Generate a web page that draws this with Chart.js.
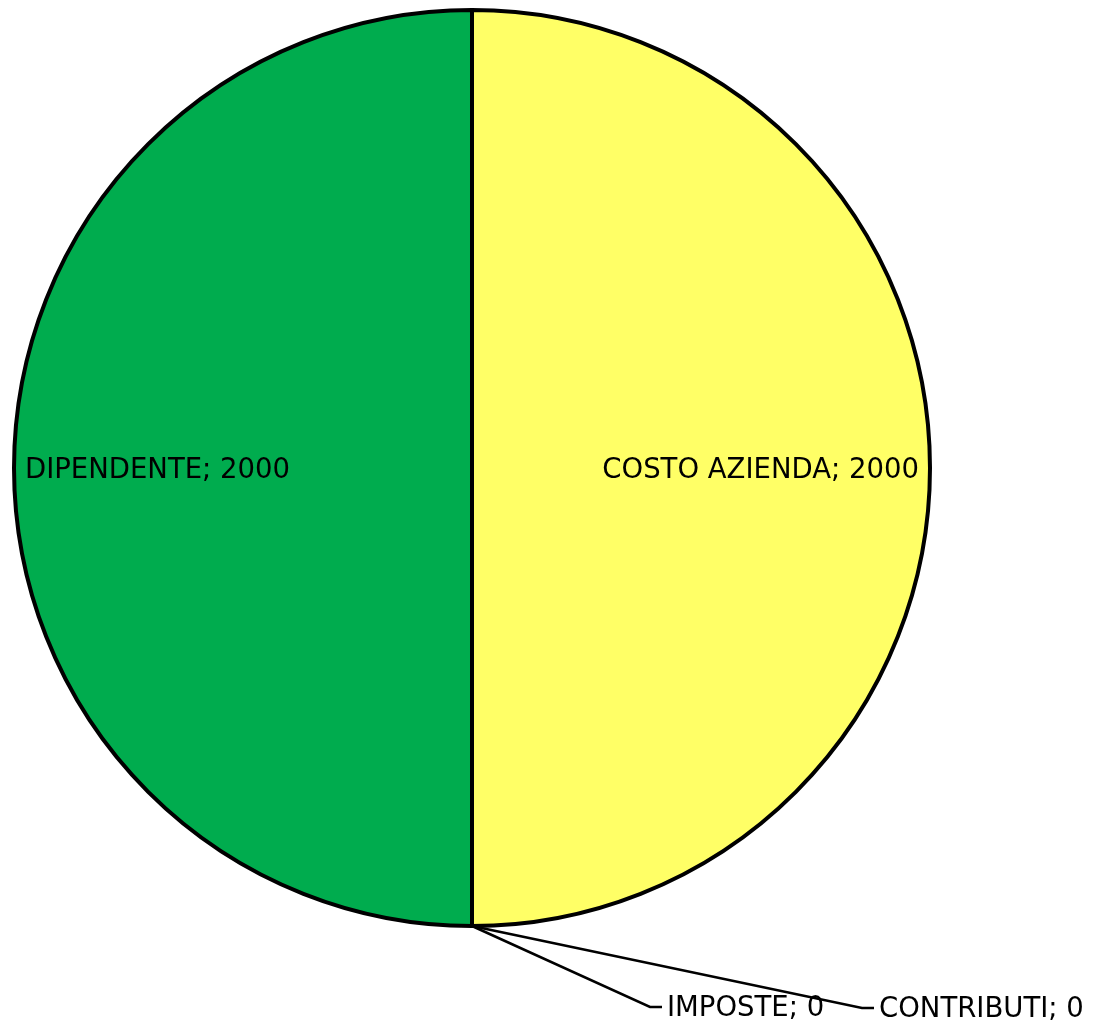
<!DOCTYPE html>
<html lang="it">
<head>
    <meta charset="UTF-8">
    <title>Costo azienda</title>
    <script src="https://cdn.jsdelivr.net/npm/chart.js"></script>
    <style>
        html, body { margin: 0; padding: 0; background: #fff; }
        canvas { display: block; }
    </style>
</head>
<body>
    <canvas id="myChart" width="1095" height="1023"></canvas>

    <script>
        // dati del grafico
        var categories = ['COSTO AZIENDA', 'CONTRIBUTI', 'IMPOSTE', 'DIPENDENTE'];
        var values = [2000, 0, 0, 2000];
        var colors = ['#FFFF66', '#FFFFFF', '#FFFFFF', '#00AC4E'];

        var FONT = '27.5px "DejaVu Sans", Verdana, sans-serif';

        // etichette "nome; valore" come in Excel
        var labelPlugin = {
            id: 'sliceLabels',
            afterDatasetsDraw: function (chart) {
                var ctx = chart.ctx;
                var meta = chart.getDatasetMeta(0);
                ctx.save();
                ctx.font = FONT;
                ctx.fillStyle = '#000';
                ctx.textBaseline = 'middle';
                var zeroIdx = 0;
                meta.data.forEach(function (arc, i) {
                    var p = arc.getProps(['x', 'y', 'startAngle', 'endAngle', 'outerRadius']);
                    var text = categories[i] + '; ' + values[i];
                    var mid = (p.startAngle + p.endAngle) / 2;
                    if (values[i] > 0) {
                        var r = p.outerRadius - 11;
                        var tx = p.x + Math.cos(mid) * r;
                        var ty = p.y + Math.sin(mid) * r + 3;
                        ctx.textAlign = Math.cos(mid) >= 0 ? 'right' : 'left';
                        ctx.fillText(text, tx, ty);
                    } else {
                        // fetta nulla: linea guida verso l'etichetta in basso
                        var sx = p.x + Math.cos(mid) * p.outerRadius;
                        var sy = p.y + Math.sin(mid) * p.outerRadius;
                        var ex = [390, 178][zeroIdx];
                        var ey = [82, 81][zeroIdx];
                        var elbowX = p.x + ex, elbowY = sy + ey;
                        ctx.strokeStyle = '#000';
                        ctx.lineWidth = 2.5;
                        ctx.beginPath();
                        ctx.moveTo(sx, sy);
                        ctx.lineTo(elbowX, elbowY);
                        ctx.lineTo(elbowX + 12, elbowY);
                        ctx.stroke();
                        ctx.textAlign = 'left';
                        ctx.fillText(text, elbowX + 17, elbowY + 2);
                        zeroIdx++;
                    }
                });
                ctx.restore();
            }
        };

        var ctx = document.getElementById('myChart').getContext('2d');
        var myChart = new Chart(ctx, {
            type: 'pie',
            data: {
                labels: categories,
                datasets: [{
                    data: values,
                    backgroundColor: colors,
                    borderColor: '#000',
                    borderWidth: 4,
                    borderJoinStyle: 'miter'
                }]
            },
            options: {
                responsive: false,
                animation: false,
                devicePixelRatio: 1,
                layout: {
                    padding: { left: 12, top: 8, right: 163, bottom: 95 }
                },
                plugins: {
                    legend: { display: false },
                    tooltip: { enabled: false }
                }
            },
            plugins: [labelPlugin]
        });
    </script>
</body>
</html>
